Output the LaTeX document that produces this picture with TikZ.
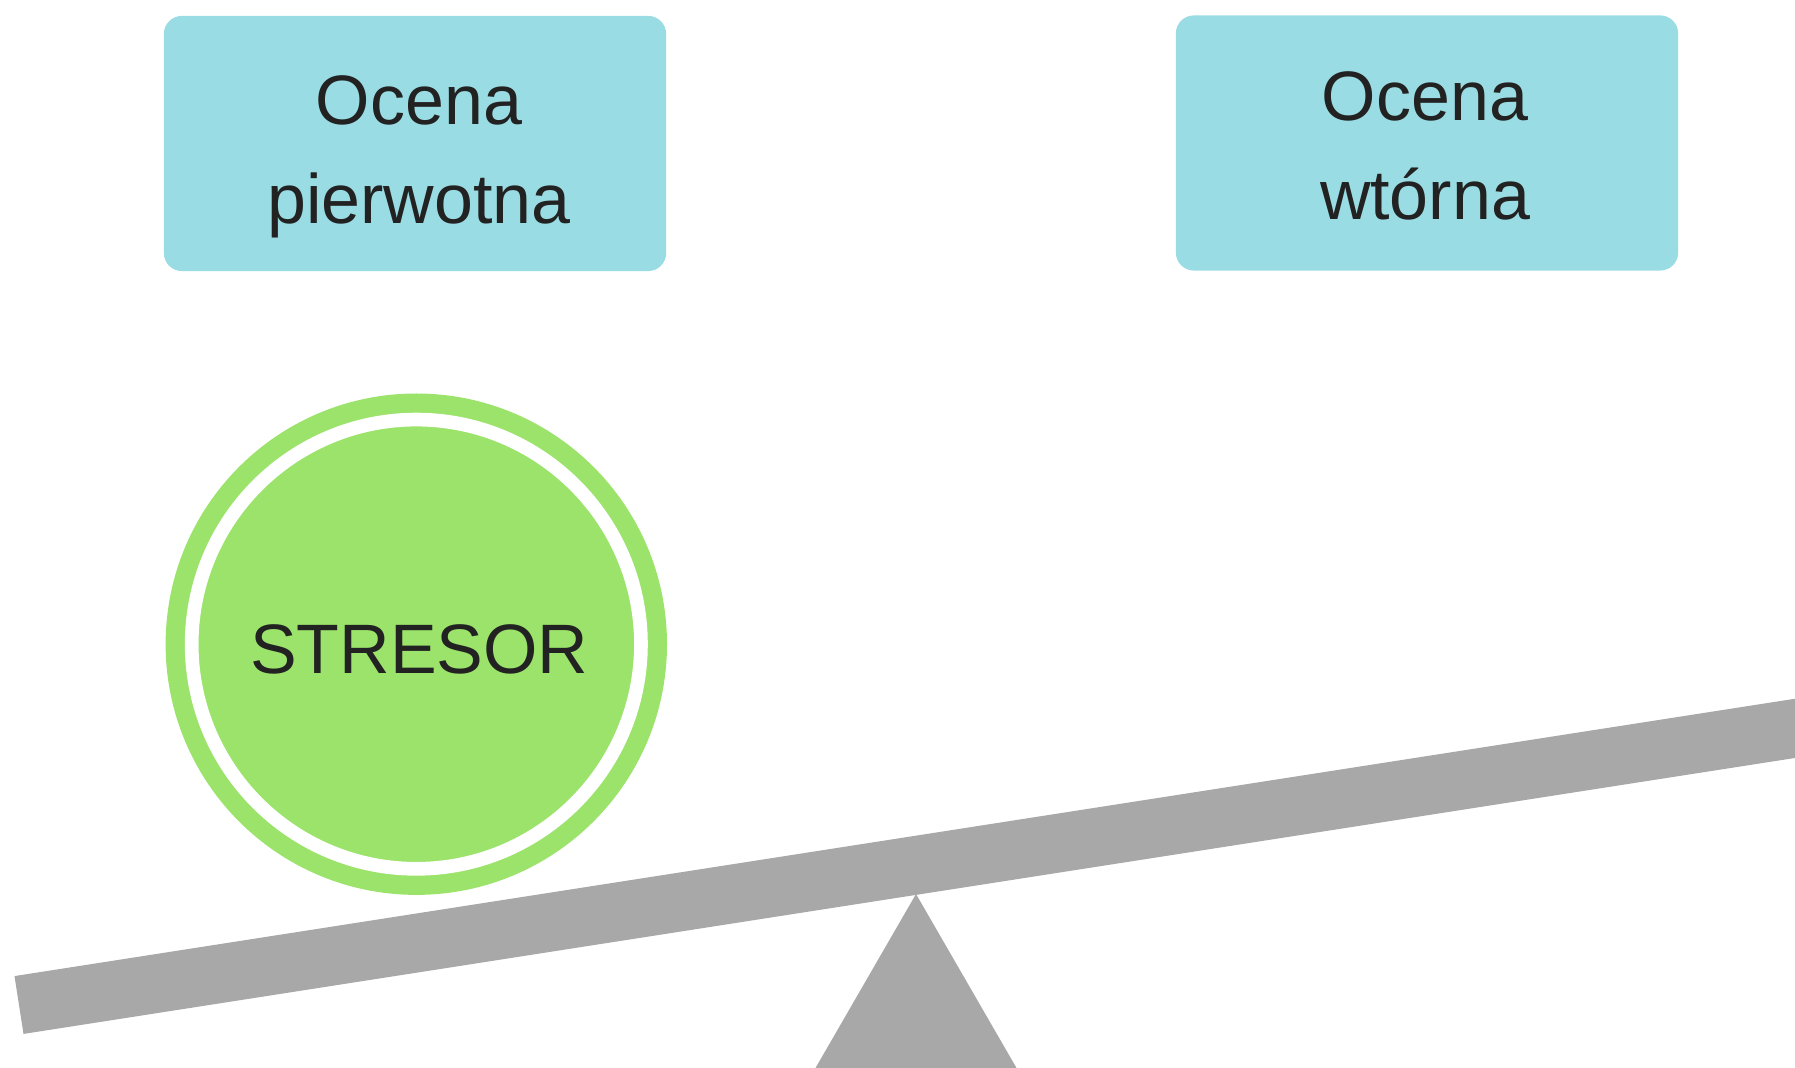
\documentclass[tikz,border=0pt]{standalone}
\usepackage{fontspec}
\setmainfont{Liberation Sans}
\definecolor{ocenaFill}{RGB}{154,220,227}
\definecolor{stresorFill}{RGB}{155,227,106}
\definecolor{wagaGray}{RGB}{168,168,168}
\definecolor{napisColor}{RGB}{34,34,34}
\begin{document}
\begin{tikzpicture}[
	ocena/.style={rectangle, rounded corners=0.18cm, fill=ocenaFill, minimum width=5.02cm, minimum height=2.55cm, inner sep=0pt},
	napis/.style={text=napisColor, align=center, font=\fontsize{19.9}{28.2}\selectfont},
	]
	\begin{scope}[x=0.01cm, y=-0.01cm]
		\path[use as bounding box] (0,0) rectangle (1795,1068);
		\clip (0,0) rectangle (1795,1068);
	
		% Define the two boxes at the top
		\node[ocena] (pierwotna) at (415,143.5) {};
		\node[napis] (pierwotnaTxt) at (419,157) {Ocena\\pierwotna};
		\node[ocena] (wtorna) at (1427,143) {};
		\node[napis] (wtornaTxt) at (1425,146) {Ocena\\wt\'orna};
	
		% The seesaw: fulcrum and beam
		\coordinate (szczyt) at (916,894);
		\fill[wagaGray] (szczyt) -- (797,1100) -- (1035,1100) -- cycle;
		\coordinate (lewy) at (19,1005);
		\coordinate (prawy) at (1900,712);
		\draw[wagaGray, line width=0.585cm] (lewy) -- (prawy);
	
		% The ball lying on the beam
		\node[circle, minimum size=4.49cm, fill=stresorFill, draw=stresorFill, double=white, double distance=0.137cm, line width=0.192cm] (stresor) at (416.3,644.2) {};
		\node[napis] (stresorTxt) at (419.3,649.5) {STRESOR};
	\end{scope}
\end{tikzpicture}
\end{document}
